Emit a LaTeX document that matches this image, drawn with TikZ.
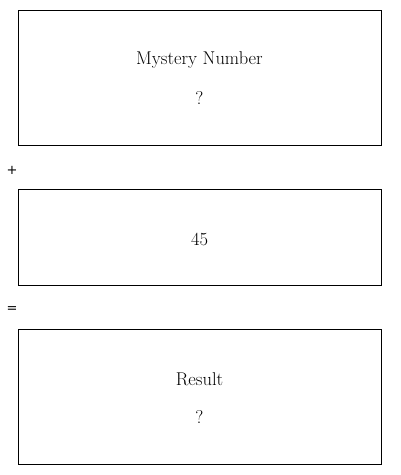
\documentclass[tikz,border=0pt]{standalone}
\usepackage{fontspec}
\newfontfamily\symfont{DejaVu Sans}
\begin{document}
\begin{tikzpicture}[x=1pt,y=-1pt,
  box/.style={draw=black,line width=0.8pt},
  lbl/.style={font=\fontsize{18.5}{22}\selectfont,inner sep=0pt,anchor=center},
  sym/.style={font=\symfont\fontsize{13}{15}\selectfont,inner sep=0pt,anchor=center}]
\useasboundingbox (0,0) rectangle (400,475);
\draw[box] (18,10) rectangle (381,145);
\node[lbl] (t1) at (199.5,60) {Mystery Number};
\node[lbl] (q1) at (199.5,98) {?};
\node[sym] (plus) at (12,170) {+};
\draw[box] (18,189) rectangle (381,285);
\node[lbl] (n45) at (199.5,239) {45};
\node[sym] (eq) at (12,310) {=};
\draw[box] (18,329) rectangle (381,464);
\node[lbl] (t3) at (199.5,379) {Result};
\node[lbl] (q3) at (199.5,417) {?};
\end{tikzpicture}
\end{document}
